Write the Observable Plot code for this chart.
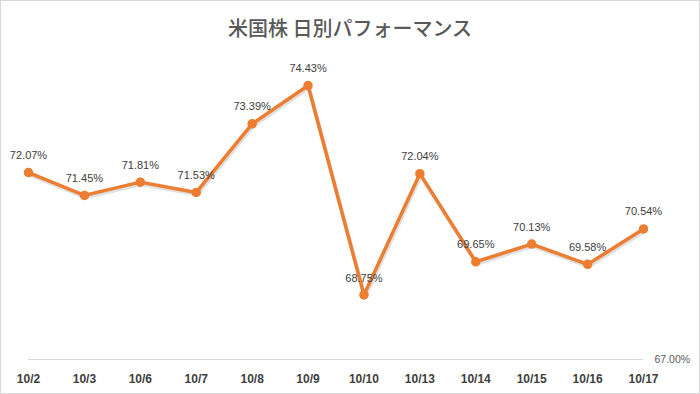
<!DOCTYPE html>
<html><head><meta charset="utf-8">
<script src="https://cdn.jsdelivr.net/npm/d3@7"></script>
<script src="https://cdn.jsdelivr.net/npm/@observablehq/plot@0.6"></script>
<style>
html,body{margin:0;padding:0;background:#fff;}
#wrap{position:relative;width:700px;height:394px;box-sizing:border-box;border:1px solid #d9d9d9;overflow:hidden;}
#title{position:absolute;left:0;top:12px;width:698px;text-align:center;font-family:"Noto Sans CJK JP",sans-serif;font-size:20px;font-weight:500;color:#595959;}
#chart{position:absolute;left:-1px;top:-1px;}
</style></head>
<body><div id="wrap"><div id="title">米国株 日別パフォーマンス</div><div id="chart"></div></div>
<script>
const dates = ["10/2","10/3","10/6","10/7","10/8","10/9","10/10","10/13","10/14","10/15","10/16","10/17"];
const values = [72.07,71.45,71.81,71.53,73.39,74.43,68.75,72.04,69.65,70.13,69.58,70.54];
const axisMin = 67;
const axisMax = 75;
const axisMinLabel = "67.00%";

const data = dates.map((d,i)=>({date:d, value:values[i]}));
const orange = "#ED7D31";
const first = dates[0], last = dates[dates.length-1];

const chart = Plot.plot({
  width:700, height:394,
  marginTop:0, marginBottom:0, marginLeft:0, marginRight:0,
  style:{fontFamily:"'Liberation Sans', sans-serif", background:"transparent", maxWidth:"none"},
  x:{type:"point", domain:dates, range:[28,643], padding:0, round:false, axis:null},
  y:{domain:[axisMin,axisMax], range:[359,64], axis:null},
  marks:[
    Plot.ruleY([axisMin], {x1:()=>first, x2:()=>last, stroke:"#d9d9d9", strokeWidth:1}),
    Plot.text([axisMinLabel], {x:()=>last, y:()=>axisMin, text:d=>d, dx:11, dy:0, textAnchor:"start", fill:"#595959", fontSize:10.5}),
    Plot.text(dates, {x:d=>d, y:()=>axisMin, text:d=>d, dy:20, fill:"#404040", fontSize:12, fontWeight:"bold"}),
    Plot.line(data, {x:"date", y:"value", stroke:"#999", strokeOpacity:0.3, strokeWidth:4, dx:1, dy:2}),
    Plot.line(data, {x:"date", y:"value", stroke:orange, strokeWidth:3.5, strokeLinejoin:"round"}),
    Plot.dot(data, {x:"date", y:"value", r:4, fill:orange, stroke:orange}),
    Plot.text(data, {x:"date", y:"value", text:d=>d.value.toFixed(2)+"%", dy:-17, fill:"#404040", fontSize:11})
  ]
});
document.getElementById("chart").appendChild(chart);
</script></body></html>
